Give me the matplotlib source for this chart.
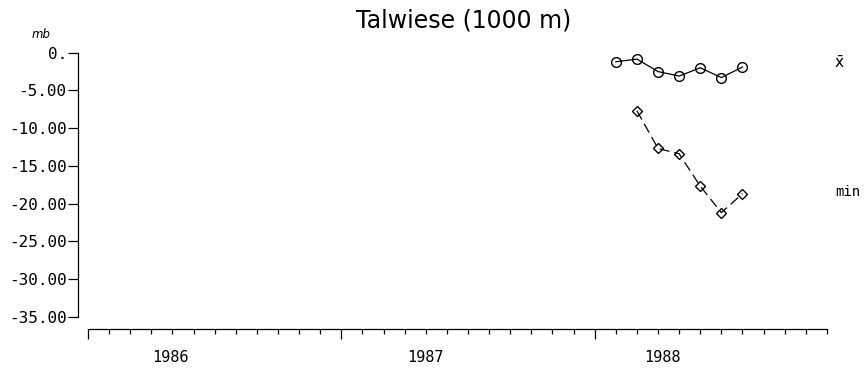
import matplotlib.pyplot as plt
from matplotlib.ticker import FixedLocator, FuncFormatter

# monthly pressure deviations at Talwiese, months counted from Jan 1986
years = ["1986", "1987", "1988"]
mean_months = [25, 26, 27, 28, 29, 30, 31]
mean_vals = [-1.2, -0.85, -2.5, -3.1, -2.0, -3.3, -1.9]
min_months = [26, 27, 28, 29, 30, 31]
min_vals = [-7.7, -12.7, -13.4, -17.7, -21.2, -18.7]
y_ticks = [0, -5, -10, -15, -20, -25, -30, -35]

fig = plt.figure(figsize=(8.65, 3.68), dpi=100)
ax = fig.add_axes([0.1017, 0.1394, 0.8543, 0.7174])

ax.plot(mean_months, mean_vals, color="black", lw=0.9, marker="o",
        ms=7, mfc="none", mec="black", mew=1.0)
ax.plot(min_months, min_vals, color="black", lw=0.9, ls=(0, (8, 4)),
        marker="D", ms=5, mfc="none", mec="black", mew=1.0)

ax.set_xlim(0, 35)
ax.set_ylim(-35, 0)

for s in ["top", "right"]:
    ax.spines[s].set_visible(False)
ax.spines["left"].set_position(("outward", 7.2))
ax.spines["bottom"].set_position(("outward", 8.9))
ax.spines["left"].set_linewidth(0.9)
ax.spines["bottom"].set_linewidth(0.9)

# y axis
ax.yaxis.set_major_locator(FixedLocator(y_ticks))
ax.yaxis.set_major_formatter(FuncFormatter(lambda v, p: "0." if v == 0 else "%.2f" % v))
ax.tick_params(axis="y", direction="out", length=7, width=0.9, pad=1,
               labelsize=11.5)
for lab in ax.get_yticklabels():
    lab.set_family("DejaVu Sans Mono")

# x axis: year boundaries long, months short
ax.xaxis.set_major_locator(FixedLocator([0, 12, 24]))
ax.xaxis.set_minor_locator(FixedLocator(range(36)))
ax.tick_params(axis="x", which="major", direction="out", length=7.5,
               width=0.9, labelbottom=False)
ax.tick_params(axis="x", which="minor", direction="out", length=3.8,
               width=0.9)

year_offsets = [3.9, 4.0, 3.2]
for i, yr in enumerate(years):
    ax.text(12 * i + year_offsets[i], -0.155, yr, transform=ax.get_xaxis_transform(),
            ha="center", va="center", fontsize=11, family="DejaVu Sans Mono")

ax.text(-0.064, 1.07, "mb", transform=ax.transAxes, ha="center", va="center",
        fontsize=8.5, style="italic")
fig.text(0.536, 0.945, "Talwiese (1000 m)", ha="center", va="center",
         fontsize=17)

ax.text(35.6, mean_vals[-1] + 0.5, r"$\bar{\mathrm{x}}$", ha="center", va="center",
        fontsize=11)
ax.text(36, min_vals[-1] + 0.2, "min", ha="center", va="center",
        fontsize=10, family="DejaVu Sans Mono")

fig.savefig("out.png", dpi=100)
